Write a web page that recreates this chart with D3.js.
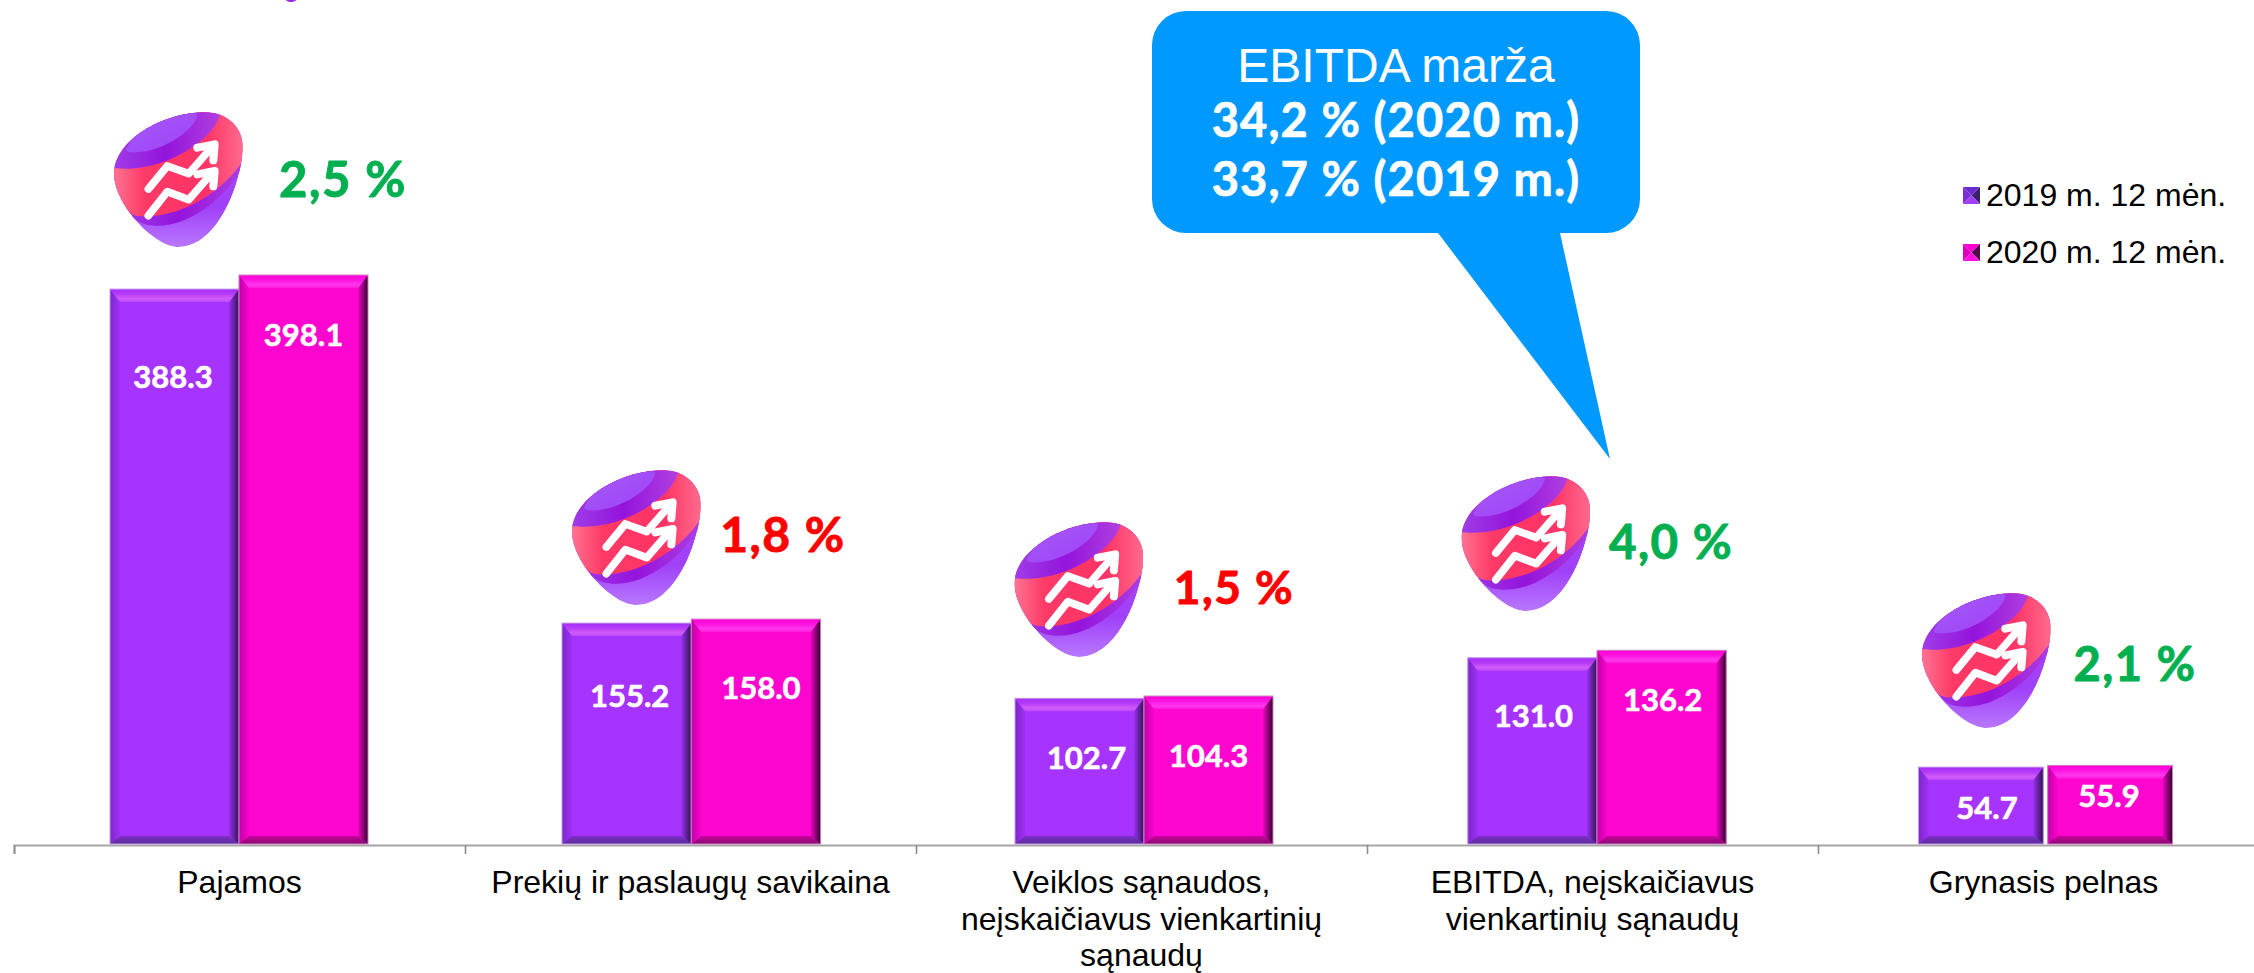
<!DOCTYPE html>
<html lang="lt">
<head>
<meta charset="utf-8">
<title>Rezultatai</title>
<script src="https://cdn.jsdelivr.net/npm/d3@7/dist/d3.min.js"></script>
<style>
html,body{margin:0;padding:0;background:#fff;overflow:hidden}
svg{display:block}
.arial{font-family:"Liberation Sans",Arial,sans-serif}
.lato{font-family:Lato,"Open Sans",sans-serif;font-weight:700;paint-order:stroke;stroke-linejoin:round}
</style>
</head>
<body>
<svg id="chart" width="2254" height="973" viewBox="0 0 2254 973"></svg>
<script>
// ---- data ----
const categories = [
  ["Pajamos"],
  ["Prekių ir paslaugų savikaina"],
  ["Veiklos sąnaudos,", "neįskaičiavus vienkartinių", "sąnaudų"],
  ["EBITDA, neįskaičiavus", "vienkartinių sąnaudų"],
  ["Grynasis pelnas"]
];
const seriesNames = ["2019 m. 12 mėn.", "2020 m. 12 mėn."];
const values2019 = [388.3, 155.2, 102.7, 131.0, 54.7];
const values2020 = [398.1, 158.0, 104.3, 136.2, 55.9];
const changeLabels = ["2,5 %", "1,8 %", "1,5 %", "4,0 %", "2,1 %"];
const changeGood = [true, false, false, true, true];
const calloutLines = ["EBITDA marža", "34,2 % (2020 m.)", "33,7 % (2019 m.)"];

// ---- layout (not data) ----
const W = 2254, H = 973, baseY = 844;
const groupNudge = [-0.5, 0.8, 2.5, 4.5, 2];
const groupHalf = [129, 129.3, 129, 129.2, 127];
const groupGap = [0, 0, 0, 0, 4.4];
const labelDx = [[-1.5, 0], [3, 5], [7, 0], [1, 1], [5, 0]];
const labelDy = [[99, 71], [84, 80], [71, 71], [69, 61], [52, 42]];
const logoBoxes = [[114, 112], [572, 470], [1014.5, 522], [1461.5, 476], [1922, 593]];
const changePos = [[343, 197], [783, 552], [1234, 604], [1671, 559], [2135, 681]];
const changeSize = [49, 48, 46, 47.5, 47];

const svg = d3.select("#chart");
const defs = svg.append("defs");

function grad(id, x1, y1, x2, y2, stops) {
  const g = defs.append("linearGradient").attr("id", id)
    .attr("x1", x1).attr("y1", y1).attr("x2", x2).attr("y2", y2);
  stops.forEach(s => g.append("stop").attr("offset", s[0]).attr("stop-color", s[1]));
}
const palette = [
  {main: "#a733ff", edge: "#c49ae8", topA: "#a52cf8", topM: "#b63cf8", topB: "#d25cf8", topC: "#bb48fa", leftA: "#7a28c8", leftB: "#a030f8",
   rightA: "#2f1450", rightB: "#9a30ee", botA: "#5c2c98", botB: "#7c30c8"},
  {main: "#ff05d0", edge: "#d080c0", topA: "#ff00d8", topM: "#ff14e0", topB: "#ff38ee", topC: "#ff1cdc", leftA: "#c000a8", leftB: "#fa04cc",
   rightA: "#30052c", rightB: "#f004c4", botA: "#880a70", botB: "#c8049c"}
];
palette.forEach((p, i) => {
  grad("top" + i, 0, 0, 0, 1, [[0, p.topA], [.4, p.topM], [.75, p.topB], [1, p.topC]]);
  grad("left" + i, 0, 0, 1, 0, [[0, p.leftA], [1, p.leftB]]);
  grad("right" + i, 1, 0, 0, 0, [[0, p.rightA], [1, p.rightB]]);
  grad("bot" + i, 0, 1, 0, 0, [[0, p.botA], [1, p.botB]]);
});

// ---- scales ----
const xEdge = d3.scaleLinear().domain([0, 5]).range([14, 2269]);
const x0 = d3.scaleBand().domain(d3.range(5)).range([14, 2269]);
const y = d3.scaleLinear().domain([0, 400]).range([845.5, 845.5 - 573.2]);
const groupX = i => {
  const c = x0(i) + x0.bandwidth() / 2 + groupNudge[i];
  const half = groupHalf[i];
  return d3.scaleBand().domain([0, 1]).range([c - half, c + half]);
};

// ---- axis ----
const axis = d3.axisBottom(xEdge).tickValues(d3.range(0, 5)).tickSize(9).tickFormat("");
const axisG = svg.append("g").attr("transform", `translate(0,${baseY + 1})`).call(axis);
axisG.select(".domain").attr("stroke", "#a6a6a6").attr("stroke-width", 2);
axisG.selectAll(".tick line").attr("stroke", "#8c8c8c").attr("stroke-width", 1.6);

// ---- bevelled bars ----
function bevelBar(g, x, w, top, s) {
  const p = palette[s], b = baseY, T = 13, S = 10, B = 8;
  const r = x + w;
  g.append("rect").attr("x", x).attr("y", top).attr("width", w).attr("height", b - top).attr("fill", p.main);
  const poly = (pts, fill) => g.append("polygon").attr("points", pts.map(q => q.join(",")).join(" ")).attr("fill", fill);
  poly([[x, top], [x + S, top + T], [x + S, b - B], [x, b]], `url(#left${s})`);
  poly([[r, top], [r - S, top + T], [r - S, b - B], [r, b]], `url(#right${s})`);
  poly([[x, top], [r, top], [r - S, top + T], [x + S, top + T]], `url(#top${s})`);
  poly([[x, b], [r, b], [r - S, b - B], [x + S, b - B]], `url(#bot${s})`);
  g.append("rect").attr("x", x).attr("y", top).attr("width", w).attr("height", b - top)
    .attr("fill", "none").attr("stroke", p.edge).attr("stroke-width", 1);
}
const allValues = [values2019, values2020];
const barsG = svg.append("g");
categories.forEach((c, i) => {
  const gx = groupX(i);
  [0, 1].forEach(s => {
    const gap = groupGap[i] / 2;
    const left = gx(s) + (s === 1 ? gap : 0);
    const w = gx.bandwidth() - gap;
    bevelBar(barsG.append("g"), left, w, y(allValues[s][i]), s);
  });
});
// data labels
categories.forEach((c, i) => {
  const gx = groupX(i);
  [0, 1].forEach(s => {
    svg.append("text").attr("class", "lato")
      .attr("x", gx(s) + gx.bandwidth() / 2 + labelDx[i][s])
      .attr("y", y(allValues[s][i]) + labelDy[i][s])
      .attr("text-anchor", "middle").attr("font-size", 31).attr("fill", "#fff")
      .attr("stroke", "#fff").attr("stroke-width", 0.6)
      .text(d3.format(".1f")(allValues[s][i]));
  });
});

// ---- category labels ----
categories.forEach((lines, i) => {
  const t = svg.append("text").attr("class", "arial").attr("text-anchor", "middle")
    .attr("font-size", 32).attr("fill", "#000");
  lines.forEach((ln, k) => t.append("tspan")
    .attr("x", x0(i) + x0.bandwidth() / 2).attr("y", 893 + k * 36.5).text(ln));
});

// ---- legend ----
const legendFaces = [
  {top: "#6a2ccc", right: "#3c2070", left: "#7a30d8", bottom: "#a040f0"},
  {top: "#ff00d0", right: "#500a4c", left: "#e000c0", bottom: "#ff10e0"}
];
seriesNames.forEach((n, s) => {
  const g = svg.append("g").attr("transform", `translate(1963,${187 + s * 57})`);
  const f = legendFaces[s], z = 17;
  g.append("polygon").attr("points", `0,0 ${z},0 ${z / 2},${z / 2}`).attr("fill", f.top);
  g.append("polygon").attr("points", `${z},0 ${z},${z} ${z / 2},${z / 2}`).attr("fill", f.right);
  g.append("polygon").attr("points", `0,0 0,${z} ${z / 2},${z / 2}`).attr("fill", f.left);
  g.append("polygon").attr("points", `0,${z} ${z},${z} ${z / 2},${z / 2}`).attr("fill", f.bottom);
  svg.append("text").attr("class", "arial").attr("x", 1986).attr("y", 206 + s * 57)
    .attr("font-size", 32).attr("fill", "#000").text(n);
});

// ---- callout ----
svg.append("path").attr("fill", "#0099ff")
  .attr("d", "M1186,11 H1606 A34,34 0 0 1 1640,45 V199 A34,34 0 0 1 1606,233 H1560 L1610,459 L1438,233 H1186 A34,34 0 0 1 1152,199 V45 A34,34 0 0 1 1186,11 Z");
svg.append("text").attr("class", "arial").attr("x", 1396).attr("y", 82).attr("text-anchor", "middle")
  .attr("font-size", 48).attr("fill", "#fff").text(calloutLines[0]);
[1, 2].forEach(k => svg.append("text").attr("class", "lato").attr("x", 1396).attr("y", k === 1 ? 137 : 196)
  .attr("text-anchor", "middle").attr("font-size", 47).attr("letter-spacing", 1.1)
  .attr("stroke", "#fff").attr("stroke-width", 0.7).attr("fill", "#fff").text(calloutLines[k]));

// ---- logo ----
const blob = "M345 66 C410 66 458 110 458 170 C458 270 385 470 265 470 C190 470 72 340 72 250 C72 150 220 66 345 66 Z";
defs.append("clipPath").attr("id", "blobClip").append("path").attr("d", blob);
grad("lgBase", 0, 0, 0, 1, [[0, "#a64dff"], [.7, "#a040f8"], [1, "#b878ff"]]);
grad("lgPink", 0, 0, 1, 0, [[0, "#ff7a98"], [.25, "#ff3a66"], [.7, "#ff3366"], [1, "#ff7090"]]);
grad("lgDark", 0, 0, 1, 0, [[0, "#a040e8"], [.5, "#9414dc"], [1, "#b040e0"]]);
grad("lgLight", 0, 0, 1, 1, [[0, "#a45cff"], [1, "#a040f0"]]);

function drawLogo(bx, by) {
  const g = svg.append("g").attr("transform", `translate(${bx - 72 / 3},${by - 65 / 3}) scale(${1 / 3})`);
  const c = g.append("g").attr("clip-path", "url(#blobClip)");
  c.append("path").attr("d", blob).attr("fill", "url(#lgBase)");
  c.append("path").attr("fill", "url(#lgDark)")
    .attr("d", "M60 60 H470 V205 C420 320 280 430 165 402 C140 395 120 375 100 345 L60 300 Z");
  c.append("path").attr("fill", "url(#lgPink)")
    .attr("d", "M60 60 H470 V190 C420 290 280 385 150 378 C130 376 115 368 105 350 L60 300 Z");
  c.append("path").attr("fill", "url(#lgDark)")
    .attr("d", "M60 50 H392 C400 130 240 240 100 235 C85 235 75 235 60 232 Z");
  c.append("path").attr("fill", "url(#lgLight)")
    .attr("d", "M108 178 C130 120 240 60 322 70 C325 110 220 190 125 186 C115 186 110 184 108 178 Z");
  const arrow = (pts, head) => {
    const line = d3.line();
    g.append("path").attr("d", line(pts)).attr("fill", "none").attr("stroke", "#fff")
      .attr("stroke-width", 23).attr("stroke-linecap", "round").attr("stroke-linejoin", "round");
    g.append("path").attr("d", line(head)).attr("fill", "none").attr("stroke", "#fff")
      .attr("stroke-width", 24).attr("stroke-linecap", "round").attr("stroke-linejoin", "round");
  };
  arrow([[175, 296], [232, 227], [296, 250], [368, 168]], [[322, 172], [374, 162], [370, 210]]);
  arrow([[175, 376], [232, 304], [296, 328], [368, 246]], [[322, 252], [374, 242], [370, 288]]);
}
logoBoxes.forEach(b => drawLogo(b[0], b[1]));

// sliver of a purple shape cut by the top edge
svg.append("ellipse").attr("cx", 291).attr("cy", -2).attr("rx", 6).attr("ry", 4).attr("fill", "#a020f0");

// ---- change labels ----
changeLabels.forEach((t, i) => {
  const col = changeGood[i] ? "#00b050" : "#ff0000";
  svg.append("text").attr("class", "lato").attr("x", changePos[i][0]).attr("y", changePos[i][1])
    .attr("text-anchor", "middle").attr("font-size", changeSize[i]).attr("letter-spacing", 1.5)
    .attr("stroke", col).attr("stroke-width", 0.9)
    .attr("fill", col).text(t);
});
</script>
</body>
</html>
